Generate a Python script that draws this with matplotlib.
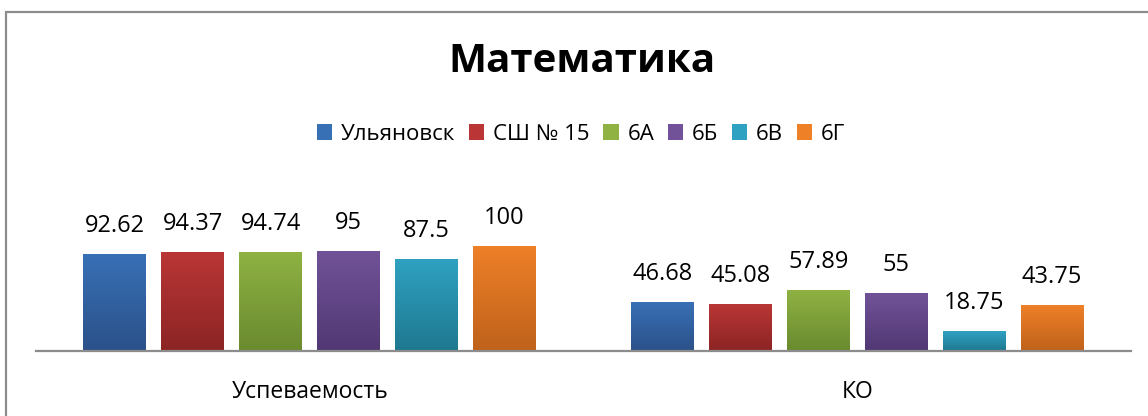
import numpy as np
import matplotlib
matplotlib.use('Agg')
import matplotlib.pyplot as plt
from matplotlib.colors import LinearSegmentedColormap
from matplotlib.patches import Patch, Rectangle

plt.rcParams['font.family'] = ['Open Sans', 'DejaVu Sans']

categories = ['Успеваемость', 'КО']
series = ['Ульяновск', 'СШ № 15', '6А', '6Б', '6В', '6Г']
values = [
    [92.62, 46.68],
    [94.37, 45.08],
    [94.74, 57.89],
    [95, 55],
    [87.5, 18.75],
    [100, 43.75],
]
labels = [
    ['92.62', '46.68'],
    ['94.37', '45.08'],
    ['94.74', '57.89'],
    ['95', '55'],
    ['87.5', '18.75'],
    ['100', '43.75'],
]
# (top colour, bottom colour) for the Excel-like gradient
colors = [
    ('#3870B6', '#2B5189'),
    ('#BA3636', '#8C2424'),
    ('#8FB243', '#6A8A2F'),
    ('#715298', '#513873'),
    ('#2FA1C1', '#1F7890'),
    ('#EE8028', '#BF621B'),
]

W, H = 1148, 416
fig = plt.figure(figsize=(W / 100, H / 100), dpi=100)
ax = fig.add_axes([36 / W, (H - 351) / H, (1131 - 36) / W, 0.3029])

x = np.arange(len(categories))
pitch = 0.1423
width = 0.115
grad = np.linspace(0, 1, 100).reshape(-1, 1)

for i, s in enumerate(series):
    pos = x + (i - 2.5) * pitch
    bars = ax.bar(pos, values[i], width, color=colors[i][0], zorder=2)
    cmap = LinearSegmentedColormap.from_list('g%d' % i, [colors[i][1], colors[i][0]])
    for b, lab in zip(bars, labels[i]):
        x0, w, h = b.get_x(), b.get_width(), b.get_height()
        im = ax.imshow(grad, extent=[x0, x0 + w, 0, h], origin='lower',
                       cmap=cmap, aspect='auto', zorder=3)
        im.set_clip_path(b)
        ax.annotate(lab, (x0 + w / 2, h), xytext=(0, 15.8), textcoords='offset points',
                    ha='center', va='baseline', fontsize=17, color='black')

ax.set_xlim(-0.5, 1.5)
ax.set_ylim(0, 120)
ax.set_xticks(x)
ax.set_xticklabels(categories, fontsize=16.5)
ax.tick_params(axis='x', length=0, pad=21)
ax.set_yticks([])
for sp in ['top', 'right', 'left']:
    ax.spines[sp].set_visible(False)
ax.spines['bottom'].set_color('#8c8c8c')
ax.spines['bottom'].set_linewidth(1.6)
ax.spines['bottom'].set_zorder(4)
ax.patch.set_alpha(0)

fig.text(582 / W, 1 - 62 / H, 'Математика', ha='center', va='center',
         fontsize=29, fontweight='bold', color='black')

handles = [Patch(facecolor=c[0], edgecolor='none') for c in colors]
fig.legend(handles, series, loc='center', bbox_to_anchor=(581 / W, 1 - 134 / H),
           ncol=6, frameon=False, fontsize=16, handlelength=0.7, handleheight=0.7,
           handletextpad=0.4, columnspacing=0.6)

fig.patches.append(Rectangle((6 / W, -0.1), 1.2, 1 - 12 / H + 0.1, transform=fig.transFigure,
                             fill=False, edgecolor='#8c8c8c', linewidth=1.6))

fig.savefig('out.png', dpi=100)
